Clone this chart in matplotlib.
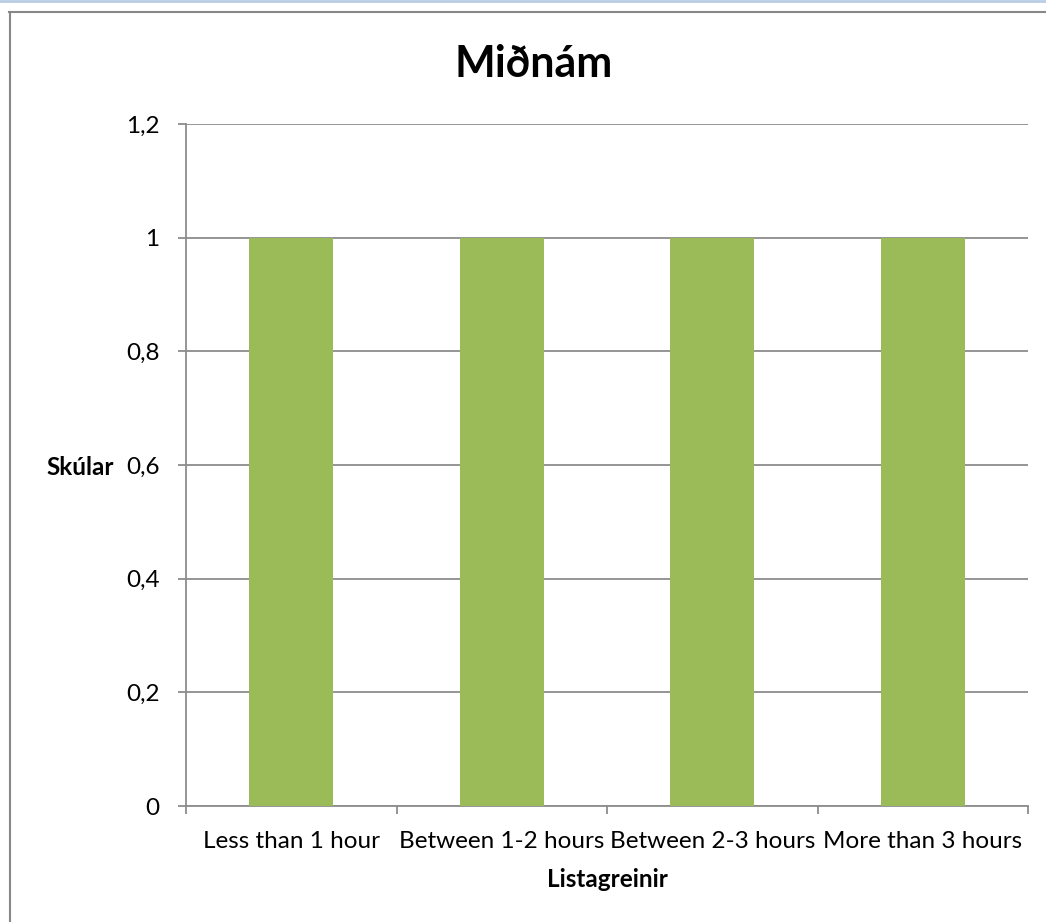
import matplotlib
matplotlib.use("Agg")
import matplotlib.pyplot as plt
from matplotlib.lines import Line2D

categories = ["Less than 1 hour", "Between 1-2 hours", "Between 2-3 hours", "More than 3 hours"]
values = [1, 1, 1, 1]
yticks = [0, 0.2, 0.4, 0.6, 0.8, 1.0, 1.2]
ytick_labels = ["0", "0,2", "0,4", "0,6", "0,8", "1", "1,2"]

W, H = 1046, 922
plt.rcParams["font.family"] = ["Lato", "DejaVu Sans"]

fig = plt.figure(figsize=(W / 100, H / 100), dpi=100)
fig.patch.set_facecolor("white")


def fx(px):
    return px / W


def fy(py):
    return 1 - py / H


# plot area in pixel terms
left, right, top, bottom = 186, 1028, 124, 806
ax = fig.add_axes([fx(left), fy(bottom), (right - left) / W, (bottom - top) / H])

grid_color = "#8C8C8C"
lw = 1.3
x = list(range(len(categories)))
ax.bar(x, values, width=0.4, color="#9BBB59", zorder=3)
ax.set_xlim(-0.5, len(categories) - 0.5)
ax.set_ylim(0, 1.2)

ax.set_yticks(yticks)
ax.set_yticklabels(ytick_labels, fontsize=17.5)
ax.yaxis.grid(True, color=grid_color, linewidth=lw, zorder=0)
ax.set_xticks([i - 0.5 for i in range(len(categories) + 1)])
ax.set_xticklabels([])
ax.set_xticks(x, minor=True)
ax.set_xticklabels(categories, minor=True, fontsize=17.5)
ax.tick_params(axis="x", which="major", length=6, color=grid_color, width=lw)
ax.tick_params(axis="x", which="minor", length=0, pad=18)
ax.tick_params(axis="y", length=6, color=grid_color, width=lw, pad=13)

for s in ["top", "right"]:
    ax.spines[s].set_visible(False)
for s in ["left", "bottom"]:
    ax.spines[s].set_color(grid_color)
    ax.spines[s].set_linewidth(lw)

fig.text(fx(534), fy(77), "Miðnám", ha="center", va="baseline",
         fontsize=31, fontweight="bold")
fig.text(fx(80), fy(475), "Skúlar", ha="center", va="baseline",
         fontsize=17.5, fontweight="bold")
fig.text(fx(607), fy(887), "Listagreinir", ha="center", va="baseline",
         fontsize=17.5, fontweight="bold")

# outer chart frame and window edge
fig.add_artist(Line2D([0, 1], [fy(0.8), fy(0.8)], color="#B9CDE5", linewidth=2.0))
fig.add_artist(Line2D([fx(9), 1], [fy(12.5), fy(12.5)], color="#888888", linewidth=1.5))
fig.add_artist(Line2D([fx(9.5), fx(9.5)], [0, fy(12.5)], color="#888888", linewidth=1.5))

fig.savefig("out.png", dpi=100, facecolor="white")
